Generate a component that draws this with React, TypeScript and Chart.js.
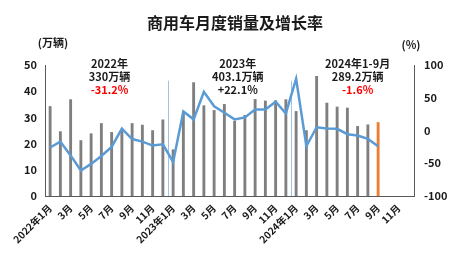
import React, { useEffect, useRef } from "react";
import { Chart, registerables } from "chart.js";

Chart.register(...registerables);

const categories = [
  "2022年1月", "2月", "3月", "4月", "5月", "6月", "7月", "8月", "9月", "10月", "11月", "12月",
  "2023年1月", "2月", "3月", "4月", "5月", "6月", "7月", "8月", "9月", "10月", "11月", "12月",
  "2024年1月", "2月", "3月", "4月", "5月", "6月", "7月", "8月", "9月", "10月", "11月", "12月",
];

// 销量（万辆）
const salesValues = [
  34.3, 24.7, 36.9, 21.3, 23.9, 27.8, 24.4, 25.0, 27.8, 27.2, 25.1, 29.2,
  17.8, 32.2, 43.4, 34.6, 32.8, 35.1, 28.7, 30.9, 37.0, 36.4, 36.5, 36.9,
  32.4, 25.1, 45.8, 35.6, 34.1, 33.7, 26.7, 27.3, 28.2,
];

// 增长率（%）
const growthValues = [
  -26, -17, -38, -61, -51, -39, -25, 3, -13, -17, -23, -21,
  -48, 29, 17, 59, 37, 27, 17, 20, 32, 32, 44, 26,
  79, -24, 5, 3, 2.5, -5.6, -7.7, -12.8, -24,
];

const leftTicks = [0, 10, 20, 30, 40, 50];
const rightTicks = [-100, -50, 0, 50, 100];

const titleText = "商用车月度销量及增长率";
const leftUnit = "(万辆)";
const rightUnit = "(%)";

const noteYears = ["2022年", "2023年", "2024年1-9月"];
const noteTotals = ["330万辆", "403.1万辆", "289.2万辆"];
const noteRates = ["-31.2%", "+22.1%", "-1.6%"];
const noteCenters = [5.8, 18.3, 30.0]; // category index positions

const GRAY = "#7f7f7f";
const ORANGE = "#ed7d31";
const BLUE = "#5b9bd5";
const FONT = "'Noto Sans CJK SC', 'Noto Sans', sans-serif";

export default function App() {
  const ref = useRef<HTMLCanvasElement | null>(null);

  useEffect(() => {
    if (!ref.current) return;
    const barColors = salesValues.map((_, i) =>
      i === salesValues.length - 1 ? ORANGE : GRAY
    );
    const boundaries = categories
      .map((c, i) => (i > 0 && c.includes("年") ? i - 0.5 : null))
      .filter((v) => v !== null) as number[];

    const overlay = {
      id: "overlay",
      beforeDatasetsDraw(chart: any) {
        const { ctx, scales } = chart;
        const x = scales.x;
        const y = scales.y;
        ctx.save();
        ctx.strokeStyle = "#9dc3e6";
        ctx.lineWidth = 1;
        boundaries.forEach((b) => {
          const px = Math.round(x.getPixelForValue(b)) + 0.5;
          ctx.beginPath();
          ctx.moveTo(px, y.getPixelForValue(0));
          ctx.lineTo(px, y.getPixelForValue(44));
          ctx.stroke();
        });
        ctx.restore();
      },
      afterDraw(chart: any) {
        const { ctx, scales } = chart;
        ctx.save();
        ctx.textAlign = "center";
        ctx.textBaseline = "middle";
        ctx.fillStyle = "#1a1a1a";
        ctx.font = `bold 16px ${FONT}`;
        ctx.fillText(titleText, 235, 23);
        ctx.font = `bold 11px ${FONT}`;
        ctx.fillText(leftUnit, 53, 43);
        ctx.fillText(rightUnit, 411, 45);
        noteYears.forEach((t, i) => {
          const cx = scales.x.getPixelForValue(noteCenters[i]);
          ctx.font = `bold 11px ${FONT}`;
          ctx.fillStyle = "#1a1a1a";
          ctx.fillText(t, cx, 64);
          ctx.fillText(noteTotals[i], cx, 77);
          ctx.fillStyle = noteRates[i].startsWith("-") ? "#ff0000" : "#1a1a1a";
          ctx.fillText(noteRates[i], cx, 90);
        });
        ctx.restore();
      },
    };

    const chart = new Chart(ref.current, {
      type: "bar",
      data: {
        labels: categories,
        datasets: [
          {
            type: "line",
            data: growthValues,
            yAxisID: "y1",
            borderColor: BLUE,
            borderWidth: 2.5,
            pointRadius: 0,
            tension: 0,
            order: 0,
          } as any,
          {
            type: "bar",
            data: salesValues,
            yAxisID: "y",
            backgroundColor: barColors,
            categoryPercentage: 1,
            barPercentage: 0.28,
            order: 1,
          },
        ],
      },
      options: {
        animation: false,
        responsive: false,
        events: [],
        layout: { padding: { top: 65, left: 0, right: 0, bottom: 0 } },
        plugins: {
          legend: { display: false },
          tooltip: { enabled: false },
          title: { display: false },
        },
        scales: {
          x: {
            grid: { display: false, drawTicks: false },
            border: { display: true, color: "#595959", width: 1 },
            afterFit: (s: any) => {
              s.height = 64;
            },
            ticks: {
              autoSkip: false,
              maxRotation: 45,
              minRotation: 45,
              padding: 6,
              color: "#1a1a1a",
              font: { family: FONT, size: 10, weight: "bold" },
              callback: (_v: any, i: number) => (i % 2 === 0 ? categories[i] : ""),
            },
          },
          y: {
            position: "left",
            min: 0,
            max: 50,
            afterFit: (s: any) => {
              s.width = 45;
            },
            afterBuildTicks: (s: any) => {
              s.ticks = leftTicks.map((v) => ({ value: v }));
            },
            grid: { display: false, drawTicks: false },
            border: { display: true, color: "#595959", width: 1 },
            ticks: {
              padding: 8,
              color: "#1a1a1a",
              font: { family: FONT, size: 11, weight: "bold" },
            },
          },
          y1: {
            position: "right",
            min: -100,
            max: 100,
            afterFit: (s: any) => {
              s.width = 43;
            },
            afterBuildTicks: (s: any) => {
              s.ticks = rightTicks.map((v) => ({ value: v }));
            },
            grid: { display: false, drawTicks: false },
            border: { display: true, color: "#595959", width: 1 },
            ticks: {
              padding: 10,
              color: "#1a1a1a",
              font: { family: FONT, size: 11, weight: "bold" },
            },
          },
        },
      },
      plugins: [overlay],
    });
    return () => chart.destroy();
  }, []);

  return (
    <div style={{ position: "fixed", left: 0, top: 0, width: 457, height: 260, background: "#fff" }}>
      <canvas ref={ref} width={457} height={260} style={{ width: 457, height: 260 }} />
    </div>
  );
}
